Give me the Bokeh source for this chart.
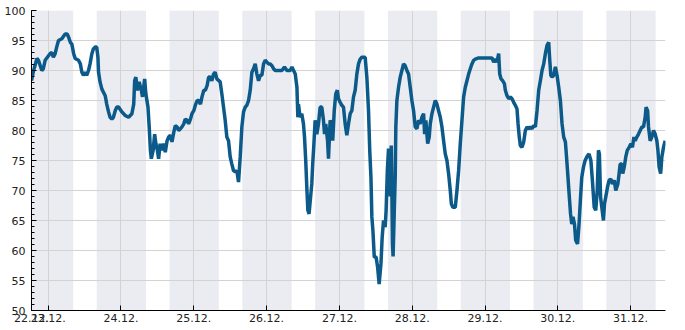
from bokeh.plotting import figure
from bokeh.models import FixedTicker, SingleIntervalTicker, BoxAnnotation, Range1d
from bokeh.embed import file_html
from bokeh.resources import INLINE

# time in hours since 22.12. 00:00
hours = [18.5, 19.2, 20.3, 20.8, 21.9, 22.4, 23.0, 24.6, 25.2, 25.7, 26.3, 26.8, 27.4, 28.5, 29.6, 30.2,
         30.7, 31.3, 31.8, 32.4, 32.9, 34.0, 34.6, 35.1, 35.6, 36.2, 36.7, 37.3, 37.8, 38.4, 38.9, 39.5,
         40.0, 40.4, 40.6, 41.1, 41.7, 42.8, 43.3, 43.9, 44.4, 45.0, 45.5, 46.1, 46.6,
         47.2, 48.3, 49.4, 50.5, 51.6, 52.2, 52.5, 52.9, 53.4, 54.0, 54.7, 55.1, 55.8, 56.2, 56.9, 57.3,
         57.7, 58.0, 58.6, 59.1, 59.5, 60.0, 60.4, 60.9, 61.5, 62.0, 62.6, 63.2, 63.7, 64.3, 64.8, 65.4,
         65.9, 66.5, 67.0, 67.6, 68.1, 68.7, 69.2, 69.8, 70.3, 70.9, 71.4, 72.0, 72.5, 73.1, 73.6, 74.2,
         74.7, 75.3, 75.8, 76.4, 76.9,
         77.4, 77.95, 78.5, 79.05, 79.6, 80.7, 81.25, 81.8, 82.35, 82.9, 83.45, 84.0, 84.55, 85.1, 85.65,
         86.2, 86.75, 87.3, 87.85, 88.4, 88.95, 89.5, 90.05, 90.6, 91.15, 91.7, 92.25, 92.8, 93.35, 93.9,
         94.45, 95.0, 95.55, 96.1, 96.65, 97.2, 97.75, 98.3, 98.85, 99.95, 101.05, 101.9, 102.7, 103.8,
         104.35, 104.9, 105.45, 106.0,
         106.3, 106.5, 107.05, 107.6, 108.15, 108.5, 108.9, 109.25, 109.6, 110.0, 110.5, 110.9, 111.2,
         111.6, 112.0, 112.55, 113.1, 113.65, 114.2, 114.75, 115.1, 115.5, 116.1, 116.4, 116.95, 117.5,
         117.8, 118.3, 118.8, 119.3, 119.7, 120.25, 120.8, 121.35, 121.9, 122.45, 123.0, 123.55, 124.1,
         124.65, 125.2, 125.75, 126.3, 126.85, 127.4, 128.5, 129.05, 129.6, 130.0, 130.4, 130.7, 131.05,
         131.5, 132.1, 132.6, 133.1, 133.7, 134.1, 134.55, 135.1, 135.4, 135.8, 136.2, 136.75, 137.1,
         137.3, 137.5, 137.7, 138.1, 138.4, 138.6, 138.95, 139.5, 140.05, 140.6, 141.15, 141.7, 142.25,
         142.8, 143.35, 143.9, 144.45, 145.0, 145.55, 146.1, 146.65, 147.2, 147.75, 148.1, 148.5, 149.1,
         149.6, 149.95, 150.5, 151.05, 151.6, 152.15, 152.7, 153.25, 153.8, 154.35, 154.9, 155.45, 156.0,
         156.55, 156.9, 157.4, 158.2, 158.75, 159.3, 159.85, 160.4, 160.95, 161.5, 162.05, 162.6, 163.15,
         163.7, 164.25, 164.8, 165.9, 167.55,
         168.1, 170.3, 170.85, 171.4, 171.95, 172.5, 172.85, 173.3, 173.8, 174.4, 174.7, 175.25, 175.8,
         176.35, 176.9, 177.45, 178.0, 178.55, 178.9, 179.3, 179.65, 180.2, 180.75, 181.3, 181.85, 182.4,
         182.95, 183.5, 184.05, 184.6, 185.15, 185.7, 186.25, 186.8, 187.35, 187.9, 188.45, 189.0, 189.35,
         189.7, 190.1, 190.65, 191.2, 191.75, 192.3, 192.85, 193.4, 193.95, 194.5, 194.8, 195.2,
         195.8, 196.2, 196.6, 197.0, 197.5, 197.9, 198.5, 199.0, 199.5, 199.9, 200.45, 201.0, 201.55,
         202.3, 202.9, 203.4, 204.0, 204.5, 205.0, 205.4, 205.7, 206.1, 206.5, 207.05, 207.4, 207.8, 208.4,
         208.9, 209.5, 210.0, 210.6, 211.1, 211.8, 212.2, 212.55, 213.1, 213.4, 213.9, 214.4, 214.9, 215.5,
         216.1, 216.6, 217.1, 217.5, 218.05, 218.6, 219.15, 219.7, 220.25, 220.8, 221.1, 221.6, 221.9,
         222.45, 223.0, 223.55, 224.1, 224.65, 225.0, 225.4, 225.9, 226.3, 226.85, 227.4]

humidity = [88.3, 90.0, 92.0, 91.7, 90.0, 90.3, 91.7, 92.8, 93.0, 92.2, 92.8, 93.9, 95.0, 95.3, 96.1, 96.1,
            95.6, 94.7, 94.4, 92.8, 92.0, 91.7, 91.1, 89.7, 89.2, 89.7, 89.2, 90.0, 91.1, 92.8, 93.6, 93.9,
            93.9, 92.2, 89.7, 88.1, 86.9, 85.8, 84.4, 83.1, 82.2, 81.9, 82.2, 83.3, 83.9,
            83.9, 83.1, 82.5, 82.2, 82.8, 84.4, 88.3, 88.9, 86.7, 88.1, 86.7, 85.6, 88.6, 86.1, 83.9, 80.6,
            76.7, 75.3, 76.7, 79.4, 77.8, 76.7, 75.3, 77.8, 76.7, 77.8, 76.4, 78.3, 78.9, 79.2, 78.1, 79.7,
            80.8, 80.6, 80.0, 80.3, 80.6, 81.1, 81.9, 81.7, 81.1, 81.9, 82.8, 83.3, 84.2, 85.0, 85.0, 84.4,
            85.6, 86.7, 86.7, 87.5, 88.9,
            88.9, 88.3, 89.4, 89.7, 88.6, 88.1, 86.1, 83.9, 81.7, 78.9, 78.3, 75.6, 74.4, 73.3, 73.1,
            73.3, 71.4, 75.6, 80.6, 83.1, 83.9, 84.2, 85.0, 86.7, 89.7, 90.3, 91.1, 89.4, 88.3, 89.2,
            89.2, 91.1, 91.7, 91.4, 91.1, 91.1, 90.8, 90.3, 90.0, 90.0, 90.0, 90.6, 90.0, 90.0,
            90.6, 90.0, 89.4, 87.2,
            82.2, 84.4, 82.2, 82.8, 81.1, 78.9, 75.0, 70.6, 66.7, 66.1, 68.9, 71.1, 74.4,
            77.8, 81.7, 79.4, 81.1, 83.9, 83.9, 81.7, 79.4, 81.1, 78.3, 75.3, 81.7, 80.6,
            78.3, 83.3, 86.1, 86.7, 85.3, 84.7, 84.2, 83.9, 81.1, 79.2, 81.1, 82.8, 83.3,
            85.6, 86.7, 89.4, 91.1, 91.9, 92.2, 92.2, 88.9, 83.3, 76.7, 72.2, 65.6, 63.3,
            58.9, 58.9, 57.2, 54.4, 57.8, 62.2, 65.0, 63.9, 66.7, 73.3, 77.0, 69.0, 77.5,
            70.0, 61.0, 59.0, 66.7, 72.2, 80.6, 85.0, 87.2, 88.9, 90.0, 91.1, 90.8, 90.0,
            89.4, 87.2, 85.0, 83.3, 80.6, 80.3, 81.7, 81.1, 82.2, 82.8, 79.4, 81.7, 77.8,
            78.9, 81.1, 82.8, 83.9, 85.0, 84.4, 83.3, 82.2, 80.6, 78.3, 76.1, 75.0, 72.8,
            70.0, 67.8, 67.2, 67.2, 70.0, 73.3, 77.8, 81.7, 85.6, 87.2, 88.3, 89.4, 90.3,
            91.1, 91.7, 91.9, 92.1, 92.1,
            92.1, 92.1, 91.4, 91.9, 91.4, 92.8, 89.4, 88.6, 88.3, 87.8, 86.7, 85.8, 85.3,
            85.6, 85.3, 84.7, 84.2, 83.6, 81.1, 78.9, 77.5, 77.2, 78.1, 80.0, 80.6, 80.3,
            80.6, 80.3, 80.8, 80.6, 83.3, 86.7, 88.3, 90.0, 91.1, 92.8, 94.2, 94.7, 91.7,
            89.2, 88.9, 89.2, 90.6, 89.2, 87.2, 85.0, 81.1, 78.9, 78.1, 76.1, 73.3,
            68.9, 66.1, 64.4, 65.6, 64.4, 61.7, 61.1, 64.4, 68.9, 72.2, 73.9, 75.0, 75.6,
            76.1, 75.0, 71.7, 67.2, 66.7, 70.0, 76.7, 76.1, 68.9, 67.2, 65.0, 67.8, 68.9, 70.6,
            71.7, 71.9, 71.1, 71.7, 70.0, 71.1, 72.8, 74.4, 74.4, 72.8, 73.9, 75.6, 76.7, 77.2,
            77.8, 77.2, 78.9, 78.3, 78.9, 79.4, 80.0, 80.6, 80.6, 82.2, 83.9, 83.3, 80.6,
            78.3, 78.9, 80.0, 79.4, 78.3, 76.7, 73.9, 72.8, 75.6, 77.2, 78.3]

tick_hours = [18.5, 24, 48, 72, 96, 120, 144, 168, 192, 216]
tick_labels = ["22.12.", "23.12.", "24.12.", "25.12.", "26.12.", "27.12.",
               "28.12.", "29.12.", "30.12.", "31.12."]

night_start = [16, 40, 64, 88, 112, 136, 160, 184, 208]
night_end = [32.25, 56.25, 80.25, 104.25, 128.25, 152.25, 176.25, 200.25, 224.25]

p = figure(width=685, height=330, output_backend="svg", toolbar_location=None,
           x_range=Range1d(18.5, 227.5), y_range=Range1d(50, 100),
           min_border_left=31, min_border_right=20, min_border_top=10, min_border_bottom=20)
p.outline_line_color = None
p.background_fill_color = "white"
p.border_fill_color = "white"

for s, e in zip(night_start, night_end):
    p.add_layout(BoxAnnotation(left=s, right=e, fill_color="#ebecf1", fill_alpha=1.0,
                               line_color=None, level="image"))

p.line(hours, humidity, line_color="#0b5a8a", line_width=3.5)

xt = FixedTicker(ticks=tick_hours)
p.xaxis.ticker = xt
p.xgrid.ticker = FixedTicker(ticks=tick_hours[1:])
p.xaxis.major_label_overrides = {t: l for t, l in zip(tick_hours, tick_labels)}
p.xaxis.minor_tick_line_color = None
p.xaxis.major_tick_in = 5
p.xaxis.major_tick_out = 0
p.xaxis.major_label_standoff = 3

yt = SingleIntervalTicker(interval=5, num_minor_ticks=5)
p.yaxis.ticker = yt
p.ygrid.ticker = yt
p.yaxis.major_tick_in = 5
p.yaxis.major_tick_out = 0
p.yaxis.minor_tick_in = 3
p.yaxis.minor_tick_out = 0
p.yaxis.major_label_standoff = 6

for ax in (p.xaxis, p.yaxis):
    ax.axis_line_color = "black"
    ax.major_tick_line_color = "black"
    ax.major_label_text_font = "DejaVu Sans"
    ax.major_label_text_font_size = "11px"
    ax.major_label_text_color = "#222222"
p.yaxis.minor_tick_line_color = "black"

p.grid.grid_line_color = "#d3d3d3"
p.grid.grid_line_width = 1

open("out.html", "w").write(file_html(p, INLINE))
